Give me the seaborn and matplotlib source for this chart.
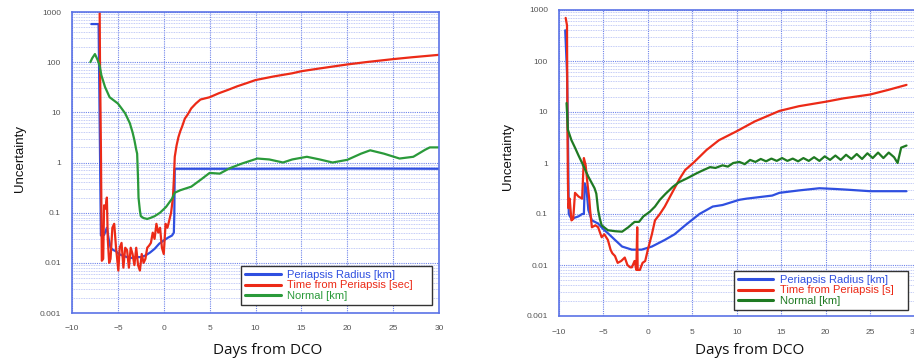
import numpy as np
import pandas as pd
import matplotlib
matplotlib.use("Agg")
import matplotlib.pyplot as plt
from matplotlib.ticker import LogLocator, FixedLocator, NullFormatter
import seaborn as sns

# ---------------- data ----------------
# Left panel
blue_l_x = [-7.9, -7.1, -6.85, -6.5, -6.2, -6.0, -5.8, -5.5, -5.2, -4.9, -4.5, -4.0, -3.5, -3.0, -2.5,
            -2.0, -1.5, -1.0, -0.5, 0.0, 0.5, 0.9, 1.1, 1.15, 1.2, 5, 10, 20, 30]
blue_l_y = [575, 575, 0.035, 0.036, 0.05, 0.03, 0.02, 0.018, 0.017, 0.015, 0.014, 0.013, 0.0125, 0.013, 0.013,
            0.014, 0.016, 0.019, 0.024, 0.028, 0.032, 0.035, 0.04, 0.09, 0.75, 0.75, 0.75, 0.76, 0.75]

red_l_x = [-7.0, -6.95, -6.85, -6.75, -6.6, -6.5, -6.35, -6.2, -6.1, -5.95, -5.8, -5.6, -5.4, -5.2, -4.95,
           -4.8, -4.6, -4.4, -4.2, -4.0, -3.8, -3.6, -3.4, -3.2, -3.0, -2.8, -2.6, -2.4, -2.2, -2.0,
           -1.8, -1.6, -1.4, -1.2, -1.0, -0.8, -0.6, -0.4, -0.2, 0.0, 0.2, 0.4, 0.6, 0.8, 1.0,
           1.1, 1.2, 1.4, 1.6, 1.8, 2.0, 2.3, 2.6, 3.0, 3.5, 4.0, 5.0, 6, 7, 8, 9, 10, 12, 14, 15,
           17, 20, 22, 25, 27, 30]
red_l_y = [3000, 100, 2, 0.011, 0.012, 0.14, 0.12, 0.2, 0.03, 0.01, 0.012, 0.05, 0.06, 0.02, 0.007,
           0.02, 0.025, 0.008, 0.02, 0.018, 0.008, 0.02, 0.015, 0.009, 0.02, 0.009, 0.007, 0.015, 0.01, 0.012,
           0.02, 0.022, 0.025, 0.04, 0.03, 0.06, 0.04, 0.05, 0.02, 0.015, 0.06, 0.05, 0.07, 0.1, 0.2,
           0.45, 1.3, 2.2, 3.2, 4.2, 5.2, 7.5, 9, 12, 15, 18, 20, 24, 28, 33, 38, 44, 52, 60, 66,
           75, 90, 100, 115, 125, 140]

green_l_x = [-8.0, -7.8, -7.5, -7.2, -7.0, -6.8, -6.4, -5.9, -5.0, -4.6, -4.2, -3.7, -3.4, -3.2, -3.0,
             -2.9, -2.8, -2.75, -2.6, -2.5, -2.2, -1.8, -1.5, -1.0, -0.4, 0.25, 0.9, 1.2, 1.8, 3.0,
             4.0, 5.0, 6.1, 7.2, 8.5, 10.2, 11.5, 13, 14, 15.6, 17, 18.4, 20, 21.5, 22.5, 24, 25.7,
             27.2, 28.5, 29, 30]
green_l_y = [100, 120, 145, 110, 87, 55, 32, 20, 15, 12, 9.5, 6.1, 4, 2.8, 1.8,
             1.5, 0.46, 0.2, 0.11, 0.085, 0.078, 0.075, 0.078, 0.085, 0.1, 0.13, 0.19, 0.25, 0.28, 0.33,
             0.45, 0.62, 0.6, 0.77, 0.95, 1.2, 1.15, 1.0, 1.15, 1.3, 1.15, 1.0, 1.13, 1.5, 1.75, 1.5, 1.2,
             1.3, 1.8, 2.0, 2.0]

# Right panel
blue_r_x = [-9.3, -9.1, -9.0, -8.9, -8.6, -8.2, -7.8, -7.4, -7.2, -7.1, -6.9, -6.7, -6.3, -5.6, -5.0,
            -4.5, -3.7, -2.9, -1.8, -0.7, 0.45, 1.9, 3.0, 4.2, 5.8, 7.3, 8.4, 10.3, 11.1, 14, 14.8,
            17, 19.3, 21, 22.4, 25, 29.1]
blue_r_y = [400, 60, 5, 0.1, 0.08, 0.085, 0.09, 0.1, 0.1, 0.4, 0.3, 0.12, 0.075, 0.065, 0.05,
            0.042, 0.031, 0.023, 0.02, 0.02, 0.023, 0.031, 0.04, 0.06, 0.1, 0.14, 0.15, 0.19, 0.2, 0.23, 0.26,
            0.29, 0.32, 0.31, 0.3, 0.28, 0.28]

red_r_x = [-9.25, -9.1, -9.05, -9.0, -8.95, -8.8, -8.6, -8.4, -8.2, -7.8, -7.4, -7.2, -7.0, -6.8, -6.6,
           -6.5, -6.3, -5.9, -5.6, -5.2, -4.9, -4.5, -4.2, -4.0, -3.7, -3.4, -3.0, -2.6, -2.3, -2.0,
           -1.8, -1.5, -1.3, -1.2, -1.15, -0.9, -0.6, -0.3, 0.0, 0.45, 0.8, 1.35, 1.9, 2.5, 3.0,
           3.6, 4.2, 5.1, 6.6, 8, 10, 12, 14.8, 17, 20.1, 22, 25, 27, 29.1]
red_r_y = [700, 500, 5, 0.5, 0.13, 0.2, 0.075, 0.08, 0.26, 0.22, 0.2, 1.25, 0.9, 0.4, 0.2,
           0.12, 0.055, 0.06, 0.055, 0.035, 0.04, 0.031, 0.02, 0.017, 0.015, 0.011, 0.012, 0.014, 0.01, 0.009,
           0.009, 0.012, 0.008, 0.055, 0.008, 0.008, 0.011, 0.012, 0.02, 0.04, 0.075, 0.1, 0.14, 0.22, 0.32,
           0.5, 0.73, 1.0, 1.8, 2.8, 4.2, 6.5, 10.5, 13, 16, 18.5, 22, 27, 34]

green_r_x = [-9.15, -9.0, -8.6, -8.2, -7.8, -7.4, -6.7, -6.0, -5.8, -5.6, -5.4, -5.2, -4.5, -3.7, -2.9,
             -2.2, -1.5, -1.0, -0.5, 0.2, 0.8, 1.35, 2.0, 2.8, 3.5, 4.4, 5.5, 6.2, 7.0, 7.6, 8.4, 9.0,
             9.6, 10.3, 10.9, 11.5, 12.1, 12.7, 13.3, 13.9, 14.5, 15.1, 15.7, 16.3, 16.9, 17.5, 18.1,
             18.7, 19.3, 19.9, 20.5, 21.1, 21.7, 22.3, 22.9, 23.5, 24.1, 24.7, 25.3, 25.9, 26.5, 27.1,
             27.7, 28.1, 28.5, 29.1]
green_r_y = [15, 4.5, 2.8, 2.0, 1.4, 1.0, 0.54, 0.32, 0.25, 0.12, 0.08, 0.06, 0.048, 0.046, 0.045,
             0.055, 0.07, 0.07, 0.09, 0.11, 0.14, 0.19, 0.25, 0.34, 0.42, 0.5, 0.63, 0.72, 0.83, 0.8, 0.9, 0.85,
             1.0, 1.05, 0.95, 1.15, 1.05, 1.2, 1.08, 1.22, 1.1, 1.25, 1.1, 1.22, 1.08, 1.25, 1.1,
             1.3, 1.1, 1.35, 1.15, 1.4, 1.15, 1.45, 1.2, 1.5, 1.2, 1.55, 1.25, 1.6, 1.25, 1.6,
             1.3, 1.0, 2.0, 2.2]

labels_l = ["Periapsis Radius [km]", "Time from Periapsis [sec]", "Normal [km]"]
labels_r = ["Periapsis Radius [km]", "Time from Periapsis [s]", "Normal [km]"]
x_ticks = [-10, -5, 0, 5, 10, 15, 20, 25, 30]
y_ticks = [0.001, 0.01, 0.1, 1, 10, 100, 1000]
y_ticklabels = ["0.001", "0.01", "0.1", "1", "10", "100", "1000"]

# ---------------- style ----------------
sns.set_style("white")
plt.rcParams["font.family"] = ["Liberation Sans", "DejaVu Sans"]

BLUE = "#2f4fe0"
RED = "#ec2a17"
GREEN_L = "#2a9a3a"
GREEN_R = "#1f7a22"
SPINE = "#5b73e6"
GRID_MAJ = "#6f84ea"
GRID_MIN = "#b0bbf4"

fig = plt.figure(figsize=(9.14, 3.64), dpi=100)
ax1 = fig.add_axes([72 / 914, 1 - 313 / 364, (439 - 72) / 914, (313 - 12) / 364])
ax2 = fig.add_axes([559 / 914, 1 - 316 / 364, (914.5 - 559) / 914, (316 - 10) / 364])


def draw(ax, series, labels, greencol, legend_box):
    cols = [BLUE, RED, greencol]
    for (xs, ys), lab, c in zip(series, labels, cols):
        df = pd.DataFrame({"x": xs, "y": ys})
        sns.lineplot(data=df, x="x", y="y", ax=ax, color=c, lw=1.6, label=lab,
                     estimator=None, sort=False)
    ax.set_yscale("log")
    ax.set_ylim(0.001, 1000)
    ax.set_xlim(-10, 30)
    ax.xaxis.set_major_locator(FixedLocator(x_ticks))
    ax.yaxis.set_major_locator(FixedLocator(y_ticks))
    ax.set_yticklabels(y_ticklabels)
    ax.yaxis.set_minor_locator(LogLocator(base=10, subs=np.arange(2, 10), numticks=20))
    ax.yaxis.set_minor_formatter(NullFormatter())
    ax.grid(True, which="major", axis="both", color=GRID_MAJ, ls=(0, (1, 1)), lw=0.8)
    ax.grid(True, which="minor", axis="y", color=GRID_MIN, ls=(0, (1, 1)), lw=0.6)
    ax.set_axisbelow(True)
    for s in ax.spines.values():
        s.set_color(SPINE)
        s.set_linewidth(1.2)
    ax.tick_params(axis="y", which="major", direction="in", length=5, color=SPINE,
                   labelsize=6, labelcolor="#555555", pad=8, width=1)
    ax.tick_params(axis="y", which="minor", length=0)
    ax.tick_params(axis="x", which="major", direction="in", length=0,
                   labelsize=6, labelcolor="#555555", pad=9)
    ax.set_xlabel("")
    ax.set_ylabel("")
    leg = ax.legend(loc="lower left", bbox_to_anchor=legend_box, mode="expand",
                    frameon=True, fancybox=False, framealpha=1, edgecolor="#333333",
                    fontsize=8, handlelength=3.2, labelspacing=0.05, borderpad=0.35,
                    handletextpad=0.6, borderaxespad=0, labelcolor="linecolor")
    leg.get_frame().set_linewidth(1.0)
    for ln in leg.get_lines():
        ln.set_linewidth(2.2)


draw(ax1, [(blue_l_x, blue_l_y), (red_l_x, red_l_y), (green_l_x, green_l_y)], labels_l, GREEN_L,
     (0.461, 0.027, 0.52, 0.139))
draw(ax2, [(blue_r_x, blue_r_y), (red_r_x, red_r_y), (green_r_x, green_r_y)], labels_r, GREEN_R,
     (0.492, 0.02, 0.49, 0.14))

# axis titles
fig.text(20 / 914, 1 - 158 / 364, "Uncertainty", rotation=90, ha="center", va="center",
         fontsize=9.5, color="#111111")
fig.text(508 / 914, 1 - 157 / 364, "Uncertainty", rotation=90, ha="center", va="center",
         fontsize=9.5, color="#111111")
fig.text(268 / 914, 1 - 350 / 364, "Days from DCO", ha="center", va="center",
         fontsize=11, color="#111111", family=["Open Sans", "DejaVu Sans"])
fig.text(750 / 914, 1 - 351 / 364, "Days from DCO", ha="center", va="center",
         fontsize=11, color="#111111", family=["Open Sans", "DejaVu Sans"])

fig.savefig("out.png", dpi=100, facecolor="white")
